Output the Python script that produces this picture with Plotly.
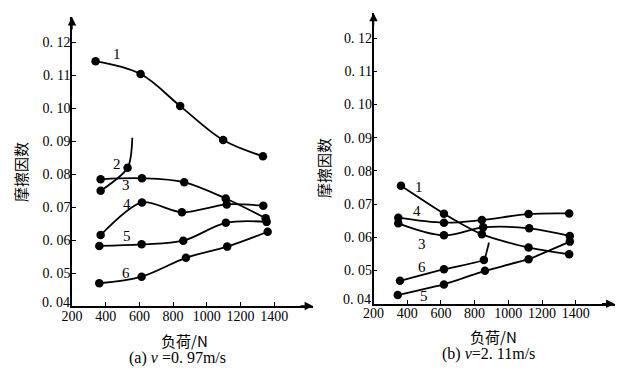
import plotly.graph_objects as go

# ---------------- data ----------------
# panel (a) v = 0.97 m/s
a1_x = [340, 607, 842, 1097, 1333]
a1_y = [0.1142, 0.1103, 0.1006, 0.0903, 0.0854]
a2_x = [370, 530, 558]          # last point: end of the rising tail (no dot)
a2_y = [0.0749, 0.0819, 0.0910]
a3_x = [370, 615, 866, 1112, 1349]
a3_y = [0.0784, 0.0787, 0.0775, 0.0726, 0.0666]
a4_x = [370, 615, 852, 1118, 1335]
a4_y = [0.0615, 0.0714, 0.0684, 0.0708, 0.0704]
a5_x = [362, 613, 860, 1113, 1355]
a5_y = [0.0582, 0.0587, 0.0598, 0.0652, 0.0655]
a6_x = [362, 613, 876, 1121, 1361]
a6_y = [0.0469, 0.0489, 0.0546, 0.0580, 0.0625]

# panel (b) v = 2.11 m/s
b1_x = [363, 618, 843, 1120, 1361]
b1_y = [0.0755, 0.0671, 0.0609, 0.0569, 0.0549]
b3_x = [347, 618, 851, 1124, 1365]
b3_y = [0.0642, 0.0606, 0.0630, 0.0627, 0.0604]
b4_x = [347, 618, 843, 1120, 1361]
b4_y = [0.0659, 0.0644, 0.0652, 0.0670, 0.0672]
b5_x = [344, 618, 861, 1120, 1365]
b5_y = [0.0426, 0.0458, 0.0499, 0.0534, 0.0587]
b6_x = [357, 618, 855, 885]     # last point: end of the rising tail (no dot)
b6_y = [0.0469, 0.0504, 0.0532, 0.0584]

# curve number labels: (text, x, y)
a_labels = [("1", 467, 0.1164), ("2", 469, 0.0830), ("3", 522, 0.0767),
            ("4", 525, 0.0709), ("5", 525, 0.0612), ("6", 522, 0.0501)]
b_labels = [("1", 472, 0.0751), ("4", 456, 0.0680), ("3", 486, 0.0580),
            ("6", 486, 0.0511), ("5", 501, 0.0423)]

y_ticks = [0.04, 0.05, 0.06, 0.07, 0.08, 0.09, 0.10, 0.11, 0.12]
y_ticktext = ["0. 04", "0. 05", "0. 06", "0. 07", "0. 08", "0. 09", "0. 10", "0. 11", "0. 12"]
x_ticks = [200, 400, 600, 800, 1000, 1200, 1400]
x_ticktext = ["200", "400", "600", "800", "1000", "1200", "1400"]

y_title = "摩擦因数"
x_title = "负荷/N"
cap_a = "(a) <i>v</i> =0. 97m/s"
cap_b = "(b) <i>v</i>=2. 11m/s"

# ---------------- figure ----------------
SERIF = "Liberation Serif"
CJK = "Noto Sans CJK SC"
X_RANGE = [200, 1630]
Y_RANGE = [0.04, 0.1276]

# the page body keeps its default 8px margin: work in page pixels, convert
OFF = 8
W, H = 629 - OFF, 381 - OFF

def fx(px):
    return (px - OFF) / W

def fy(py):
    return 1 - (py - OFF) / H

fig = go.Figure()

def add_curve(xs, ys, xa, ya, smooth=1.0, ndots=None):
    n = len(xs) if ndots is None else ndots
    fig.add_trace(go.Scatter(
        x=xs, y=ys, xaxis=xa, yaxis=ya, mode="lines",
        line=dict(color="black", width=1.8, shape="spline", smoothing=smooth),
        showlegend=False, hoverinfo="skip"))
    fig.add_trace(go.Scatter(
        x=xs[:n], y=ys[:n], xaxis=xa, yaxis=ya, mode="markers",
        marker=dict(color="black", size=8.5),
        showlegend=False, hoverinfo="skip"))

add_curve(a1_x, a1_y, "x", "y")
add_curve(a2_x, a2_y, "x", "y", 0.8, 2)
add_curve(a3_x, a3_y, "x", "y")
add_curve(a4_x, a4_y, "x", "y", 0.8)
add_curve(a5_x, a5_y, "x", "y")
add_curve(a6_x, a6_y, "x", "y")

add_curve(b1_x, b1_y, "x2", "y2", 0.6)
add_curve(b3_x, b3_y, "x2", "y2")
add_curve(b4_x, b4_y, "x2", "y2")
add_curve(b5_x, b5_y, "x2", "y2", 0.3)
add_curve(b6_x, b6_y, "x2", "y2", 0.3, 3)

TICKFONT = dict(family=SERIF, size=14, color="black")
axis_common = dict(showline=True, linecolor="black", linewidth=1.6,
                   ticks="inside", ticklen=4, tickwidth=1.4, tickcolor="black",
                   showgrid=False, zeroline=False, tickfont=TICKFONT)
x_common = dict(ticklabelstandoff=-4, tickvals=x_ticks, ticktext=x_ticktext, **axis_common)
# the lowest y label sits a little raised above the corner: drawn separately below
y_common = dict(ticklabelstandoff=-3, tickvals=y_ticks,
                ticktext=[""] + y_ticktext[1:], **axis_common)

fig.update_layout(
    template="none",
    width=W, height=H,
    margin=dict(l=0, r=0, t=0, b=0, autoexpand=False),
    font=dict(color="black", family=SERIF),
    paper_bgcolor="white", plot_bgcolor="white",
    xaxis=dict(domain=[fx(72), fx(313)], range=X_RANGE, anchor="y", **x_common),
    yaxis=dict(domain=[fy(306), fy(17)], range=Y_RANGE, anchor="x", **y_common),
    xaxis2=dict(domain=[fx(373.5), fx(614.5)], range=X_RANGE, anchor="y2", **x_common),
    yaxis2=dict(domain=[fy(303.7), fy(12.9)], range=Y_RANGE, anchor="x2", **y_common),
)

ann = []
for t, x, y in a_labels:
    ann.append(dict(text=t, x=x, y=y, xref="x", yref="y", showarrow=False,
                    font=dict(family=SERIF, size=15, color="black")))
for t, x, y in b_labels:
    ann.append(dict(text=t, x=x, y=y, xref="x2", yref="y2", showarrow=False,
                    font=dict(family=SERIF, size=15, color="black")))

for xr, yr in (("x", "y"), ("x2", "y2")):
    # lowest y tick label
    ann.append(dict(text=y_ticktext[0], x=X_RANGE[0], y=y_ticks[0], xref=xr, yref=yr,
                    xanchor="right", yanchor="middle", xshift=0, yshift=4,
                    showarrow=False, font=TICKFONT))
    # axis arrows
    ann.append(dict(x=X_RANGE[0], y=Y_RANGE[1], xref=xr, yref=yr, text="",
                    showarrow=True, ax=0, ay=14, arrowhead=2, arrowsize=1.2,
                    arrowwidth=1.4, arrowcolor="black"))
    ann.append(dict(x=X_RANGE[1], y=Y_RANGE[0], xref=xr, yref=yr, text="",
                    showarrow=True, ax=-14, ay=0, arrowhead=2, arrowsize=1.2,
                    arrowwidth=1.4, arrowcolor="black"))

def paper_text(text, px, py, family, size, angle=0):
    ann.append(dict(text=text, x=fx(px), y=fy(py), xref="paper", yref="paper",
                    xanchor="center", yanchor="middle", showarrow=False,
                    textangle=angle, font=dict(family=family, size=size, color="black")))

# titles
paper_text(y_title, 20, 172, CJK, 15, -90)
paper_text(y_title, 323, 168, CJK, 15, -90)
paper_text(x_title, 184, 340, CJK, 15)
paper_text(x_title, 493, 336, CJK, 15)
paper_text(cap_a, 177, 358, SERIF, 16)
paper_text(cap_b, 488, 354, SERIF, 16)

fig.update_layout(annotations=ann)
fig.write_html("out.html")
